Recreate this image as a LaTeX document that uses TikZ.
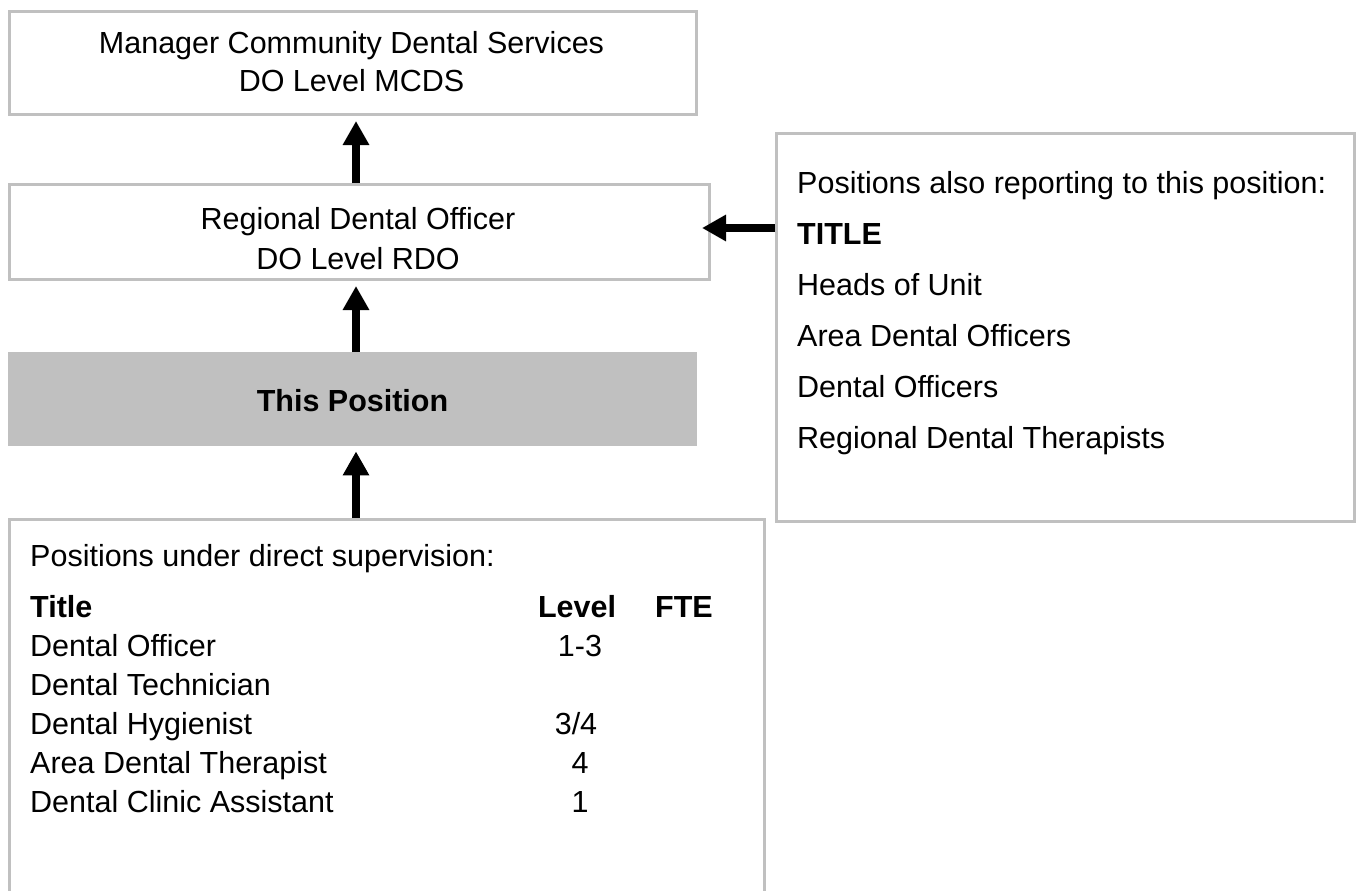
\documentclass[tikz,border=0pt]{standalone}
\usepackage{fontspec}
\setmainfont{Liberation Sans}
\usetikzlibrary{arrows.meta,calc}
\definecolor{boxgray}{HTML}{C0C0C0}
\begin{document}
\begin{tikzpicture}[x=1pt,y=-1pt,
  frame/.style={draw=boxgray,line width=3pt,fill=white,inner sep=0pt,anchor=north west},
  txt/.style={inner sep=0pt,font=\fontsize{30.5}{37}\selectfont},
  btxt/.style={inner sep=0pt,font=\fontsize{30.5}{37}\selectfont\bfseries},
  conn/.style={line width=8pt,-{Triangle[width=25pt,length=24pt]}}]
\useasboundingbox (0,0) rectangle (1361,891);
\clip (0,0) rectangle (1361,891);
% boxes
\node[frame,minimum width=687pt,minimum height=103pt] (mgr) at (8,10) {};
\node[frame,minimum width=700pt,minimum height=95pt] (rdo) at (8,183) {};
\node[draw=none,fill=boxgray,inner sep=0pt,anchor=north west,minimum width=689pt,minimum height=94pt] (pos) at (8,352) {};
\node[frame,minimum width=755pt,minimum height=420pt] (sub) at (8,518) {};
\node[frame,minimum width=578pt,minimum height=388pt] (also) at (775,132) {};
% texts
\node[txt,anchor=base] (m1) at (351.5,54) {Manager Community Dental Services};
\node[txt,anchor=base] (m2) at (351.5,92) {DO Level MCDS};
\node[txt,anchor=base] (r1) at (358,229) {Regional Dental Officer};
\node[txt,anchor=base] (r2) at (358,269) {DO Level RDO};
\node[btxt,anchor=base] (p1) at (352.5,411) {This Position};
\node[txt,anchor=base west] (a1) at (797,193) {Positions also reporting to this position:};
\node[btxt,anchor=base west] (a2) at (797,244) {TITLE};
\node[txt,anchor=base west] (a3) at (797,295) {Heads of Unit};
\node[txt,anchor=base west] (a4) at (797,346) {Area Dental Officers};
\node[txt,anchor=base west] (a5) at (797,397) {Dental Officers};
\node[txt,anchor=base west] (a6) at (797,448) {Regional Dental Therapists};
\node[txt,anchor=base west] (s0) at (30,566) {Positions under direct supervision:};
\node[btxt,anchor=base west] (h1) at (30,617) {Title};
\node[btxt,anchor=base] (h2) at (577,617) {Level};
\node[btxt,anchor=base west] (h3) at (655,617) {FTE};
\node[txt,anchor=base west] (t1) at (30,656) {Dental Officer};
\node[txt,anchor=base west] (t2) at (30,695) {Dental Technician};
\node[txt,anchor=base west] (t3) at (30,734) {Dental Hygienist};
\node[txt,anchor=base west] (t4) at (30,773) {Area Dental Therapist};
\node[txt,anchor=base west] (t5) at (30,812) {Dental Clinic Assistant};
\node[txt,anchor=base] (l1) at (580,656) {1-3};
\node[txt,anchor=base] (l3) at (576,734) {3/4};
\node[txt,anchor=base] (l4) at (580,773) {4};
\node[txt,anchor=base] (l5) at (580,812) {1};
% connectors
\coordinate (ax) at (356,0);
\draw[conn] (ax |- rdo.north) -- ($(ax |- mgr.south)+(0,5)$);
\draw[conn] (ax |- pos.north) -- ($(ax |- rdo.south)+(0,5)$);
\draw[conn] (ax |- sub.north) -- ($(ax |- pos.south)+(0,5)$);
\draw[conn] ($(also.west |- rdo.east)+(0,-4)$) -- ($(rdo.east)+(-9,-4)$);
\end{tikzpicture}
\end{document}
